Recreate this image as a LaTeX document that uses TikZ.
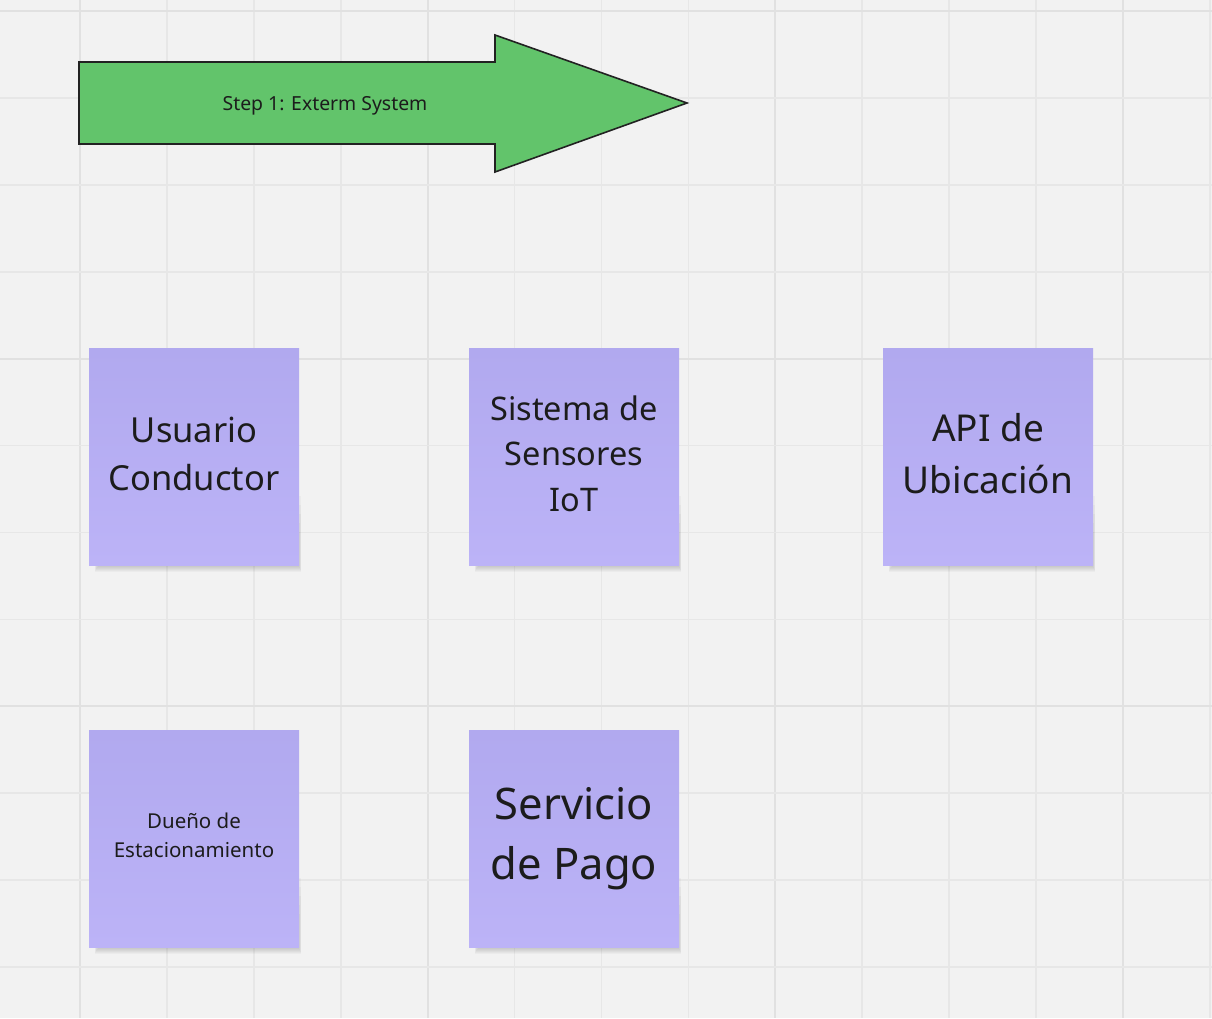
\documentclass[tikz,border=0pt]{standalone}
\usepackage{fontspec}
\setmainfont{Noto Sans}

\definecolor{board}{HTML}{F2F2F2}
\definecolor{gridminor}{HTML}{E7E7E7}
\definecolor{gridmajor}{HTML}{E1E1E1}
\definecolor{stepgreen}{HTML}{62C46B}
\definecolor{stepline}{HTML}{222222}
\definecolor{stickytop}{HTML}{B1A9EF}
\definecolor{stickybottom}{HTML}{BCB3F7}
\definecolor{ink}{HTML}{1C1C1C}

\tikzset{
  stickybox/.style={
    minimum width=210pt, minimum height=217pt, inner sep=0pt,
    top color=stickytop, bottom color=stickybottom
  },
  stickytext/.style={text=ink, align=center, inner sep=0pt},
  stickyshade/.style={fill=black, opacity=0.028},
  gridline/.style={line width=1.6pt, draw=gridminor},
  gridmajorline/.style={line width=2pt, draw=gridmajor},
  steparrow/.style={fill=stepgreen, draw=stepline, line width=1.6pt, line join=miter}
}

% soft drop shadow under a 210x217 sticky note centred on coordinate #1
\newcommand{\stickyshadow}[1]{%
  \foreach \i in {1,...,7} {
    \fill[stickyshade]
      ([xshift={-100pt+0.6pt*\i}, yshift={-30pt-9pt*\i}]#1)
      rectangle ([xshift={105pt+2.8pt-0.4pt*\i}, yshift={-108.5pt-8pt+1pt*\i}]#1);
  }%
}

\begin{document}
\begin{tikzpicture}[x=1pt, y=-1pt]
  % board
  \fill[board] (0,0) rectangle (1212,1018);
  \useasboundingbox (0,0) rectangle (1212,1018);

  % grid
  \foreach \k in {0,...,13} {
    \pgfmathsetmacro{\gx}{80+86.92*\k}
    \pgfmathtruncatemacro{\major}{mod(\k,4)==0}
    \ifnum\major=1
      \draw[gridmajorline] (\gx,0) -- (\gx,1018);
    \else
      \draw[gridline] (\gx,0) -- (\gx,1018);
    \fi
  }
  \foreach \k in {0,...,11} {
    \pgfmathsetmacro{\gy}{11+86.92*\k}
    \pgfmathtruncatemacro{\major}{mod(\k,4)==0}
    \ifnum\major=1
      \draw[gridmajorline] (0,\gy) -- (1212,\gy);
    \else
      \draw[gridline] (0,\gy) -- (1212,\gy);
    \fi
  }

  % step banner arrow
  \draw[steparrow] (79,62) -- (495,62) -- (495,35) -- (687,103)
    -- (495,172) -- (495,144) -- (79,144) -- cycle;
  \node[text=ink, font=\fontsize{19.4}{23}\selectfont] (step) at (325,106) {Step 1: Exterm System};

  % sticky note centres
  \coordinate (c1) at (194,456.5);
  \coordinate (c2) at (574,456.5);
  \coordinate (c3) at (988,456.5);
  \coordinate (c4) at (194,838.5);
  \coordinate (c5) at (574,838.5);

  % shadows
  \foreach \c in {c1,c2,c3,c4,c5} { \stickyshadow{\c} }

  % sticky notes
  \node[stickybox] (usuario)  at (c1) {};
  \node[stickybox] (sensores) at (c2) {};
  \node[stickybox] (api)      at (c3) {};
  \node[stickybox] (duenio)   at (c4) {};
  \node[stickybox] (pago)     at (c5) {};

  % note texts
  \node[stickytext, font=\fontsize{34.5}{48}\selectfont] (usuariotext)
    at ([yshift=3pt]usuario.center) {Usuario\\Conductor};
  \node[stickytext, font=\fontsize{32.5}{45.5}\selectfont] (sensorestext)
    at ([yshift=3pt]sensores.center) {Sistema de\\Sensores\\IoT};
  \node[stickytext, font=\fontsize{37}{52}\selectfont] (apitext)
    at ([yshift=3pt]api.center) {API de\\Ubicación};
  \node[stickytext, font=\fontsize{20.5}{29}\selectfont] (dueniotext)
    at ([yshift=3pt]duenio.center) {Dueño de\\Estacionamiento};
  \node[stickytext, font=\fontsize{43.5}{60}\selectfont] (pagotext)
    at (pago.center) {Servicio\\de Pago};
\end{tikzpicture}
\end{document}
